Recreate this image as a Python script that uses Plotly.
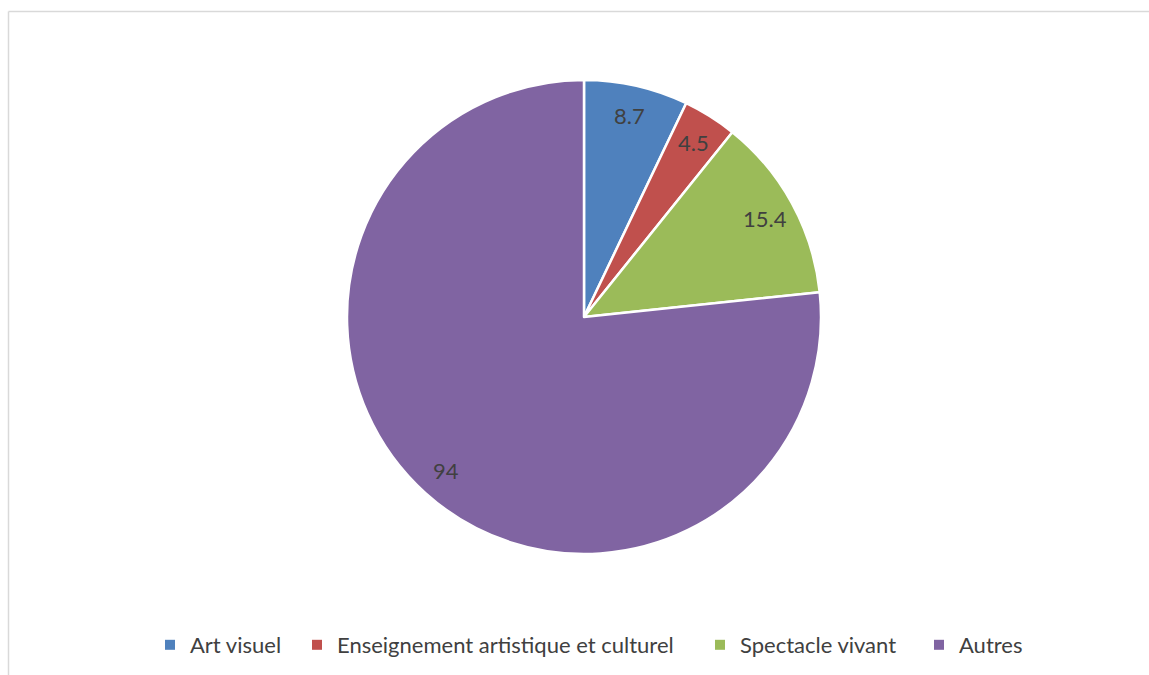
import math
import plotly.graph_objects as go

categories = ["Art visuel", "Enseignement artistique et culturel", "Spectacle vivant", "Autres"]
values = [8.7, 4.5, 15.4, 94]
value_labels = ["8.7", "4.5", "15.4", "94"]
colors = ["#4f81bd", "#c0504d", "#9bbb59", "#8064a2"]

W, H = 1149, 675
cx, cy_top, R = 584, 317, 237
cy = H - cy_top
FONT = "Lato, Carlito, Calibri, sans-serif"
legend_marker_px = [170, 317, 720, 939]  # legend entry positions (layout)

fig = go.Figure()
fig.add_trace(go.Pie(
    labels=categories,
    values=values,
    sort=False,
    direction="clockwise",
    rotation=0,
    marker=dict(colors=colors, line=dict(color="white", width=2.5)),
    textinfo="none",
    hoverinfo="label+value",
    showlegend=False,
    domain=dict(x=[(cx - R) / W, (cx + R) / W], y=[(cy - R) / H, (cy + R) / H]),
))

total = sum(values)
cum = 0
for v, lab in zip(values, value_labels):
    mid = (cum + v / 2) / total * 2 * math.pi
    cum += v
    r = 0.87 * R
    fig.add_annotation(
        x=(cx + r * math.sin(mid)) / W,
        y=(cy + r * math.cos(mid)) / H,
        xref="paper", yref="paper", text=lab, showarrow=False,
        xanchor="center", yanchor="middle",
        font=dict(family=FONT, size=22, color="#404040"),
    )

# legend entries, one legend per category so spacing matches the original
legend_layout = {}
for i, (name, col, px) in enumerate(zip(categories, colors, legend_marker_px)):
    key = "legend" if i == 0 else f"legend{i + 1}"
    fig.add_trace(go.Scatter(
        x=[None], y=[None], mode="markers", name=name,
        marker=dict(symbol="square", size=10, color=col),
        legend=key, showlegend=True, hoverinfo="skip",
    ))
    legend_layout[key] = dict(
        orientation="h", x=(px - 20) / W, xanchor="left",
        y=30 / H, yanchor="middle", itemwidth=30,
        bgcolor="rgba(0,0,0,0)",
        font=dict(family=FONT, size=22, color="#404040"),
    )

# chart frame (partially cropped in the reference)
fig.add_shape(type="line", xref="paper", yref="paper",
              x0=8.5 / W, x1=1.0, y0=1 - 11.5 / H, y1=1 - 11.5 / H,
              line=dict(color="#d9d9d9", width=1.5))
fig.add_shape(type="line", xref="paper", yref="paper",
              x0=8.5 / W, x1=8.5 / W, y0=1 - 11.5 / H, y1=0,
              line=dict(color="#d9d9d9", width=1.5))

fig.update_layout(
    width=W, height=H,
    margin=dict(l=0, r=0, t=0, b=0),
    paper_bgcolor="white",
    plot_bgcolor="white",
    font=dict(family=FONT, size=22, color="#404040"),
    xaxis=dict(visible=False),
    yaxis=dict(visible=False),
    showlegend=True,
    **legend_layout,
)

fig.write_html("out.html")
